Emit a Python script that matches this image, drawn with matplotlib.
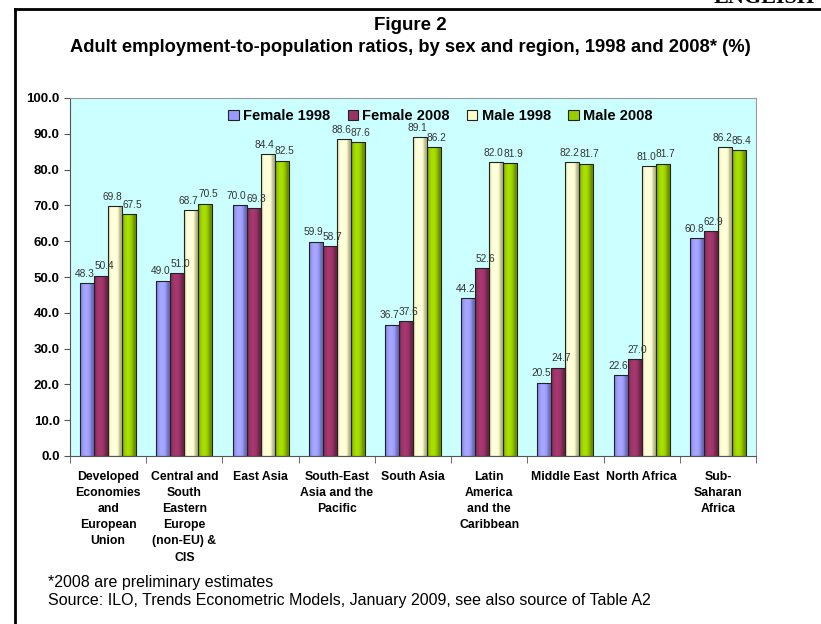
import matplotlib.pyplot as plt
import numpy as np
from matplotlib.colors import to_rgb
from matplotlib.lines import Line2D
from matplotlib.patches import Patch

plt.rcParams['font.family'] = ['Liberation Sans', 'DejaVu Sans']

regions = [
    "Developed\nEconomies\nand\nEuropean\nUnion",
    "Central and\nSouth\nEastern\nEurope\n(non-EU) &\nCIS",
    "East Asia",
    "South-East\nAsia and the\nPacific",
    "South Asia",
    "Latin\nAmerica\nand the\nCaribbean",
    "Middle East",
    "North Africa",
    "Sub-\nSaharan\nAfrica",
]
female_1998 = [48.3, 49.0, 70.0, 59.9, 36.7, 44.2, 20.5, 22.6, 60.8]
female_2008 = [50.4, 51.0, 69.3, 58.7, 37.6, 52.6, 24.7, 27.0, 62.9]
male_1998 = [69.8, 68.7, 84.4, 88.6, 89.1, 82.0, 82.2, 81.0, 86.2]
male_2008 = [67.5, 70.5, 82.5, 87.6, 86.2, 81.9, 81.7, 81.7, 85.4]

series = [
    ("Female 1998", female_1998, "#9999FF"),
    ("Female 2008", female_2008, "#993366"),
    ("Male 1998", male_1998, "#FFFFCC"),
    ("Male 2008", male_2008, "#99CC00"),
]

fig = plt.figure(figsize=(8.21, 6.24), dpi=100)
ax = fig.add_axes([70 / 821, 1 - 456 / 624, 686 / 821, 358 / 624])
ax.set_facecolor("#CCFFFF")

# shading across a bar: darker at the edges, light a bit left of centre
t = np.linspace(0, 1, 40)
shade = 0.72 + 0.38 * np.sin(np.pi * np.clip(t * 1.25, 0, 1)) ** 0.7

x = np.arange(len(regions))
w = 0.184
for k, (name, vals, col) in enumerate(series):
    pos = x + (k - 1.5) * w
    bars = ax.bar(pos, vals, width=w, color="none", edgecolor="#222222", linewidth=0.8, zorder=2.2)
    rgb = np.array(to_rgb(col))
    img = np.clip(rgb[None, None, :] * shade[None, :, None], 0, 1)
    for b in bars:
        im = ax.imshow(img, extent=[b.get_x(), b.get_x() + b.get_width(), 0, b.get_height()],
                       aspect="auto", zorder=2.1, interpolation="bilinear")
        im.set_clip_path(b)
    dx = -2 if k % 2 == 0 else 2
    for xp, v in zip(pos, vals):
        ax.annotate(f"{v:.1f}", (xp, v), xytext=(dx, 3), textcoords="offset points",
                    ha="center", va="bottom", fontsize=7.3, color="#333333", zorder=3)

ax.set_xlim(-0.5, len(regions) - 0.5)
ax.set_ylim(0, 100)
ax.set_yticks(np.arange(0, 101, 10))
ax.set_yticklabels([f"{t:.1f}" for t in np.arange(0, 101, 10)], fontsize=9.5, fontweight="bold")
ax.set_xticks(x)
ax.set_xticklabels(regions, fontsize=8.8, fontweight="bold", va="top", linespacing=1.45)
ax.tick_params(axis="x", length=0, pad=11)
ax.set_xticks(np.arange(-0.5, len(regions)), minor=True)
ax.tick_params(axis="x", which="minor", length=5, color="#555555")
ax.tick_params(axis="y", length=4, color="#555555")
for s in ax.spines.values():
    s.set_color("#999999")
ax.spines["left"].set_color("#555555")
ax.spines["bottom"].set_color("#555555")

handles = [Patch(facecolor=col, edgecolor="#222222", linewidth=0.8, label=name)
           for name, _, col in series]
ax.legend(handles=handles, loc="upper center", bbox_to_anchor=(0.54, 1.005), ncol=4, frameon=False,
          prop={"weight": "bold", "size": 10.5}, handlelength=0.7, handleheight=0.7,
          handletextpad=0.3, columnspacing=1.2)

fig.text(0.5, 1 - 25 / 624, "Figure 2", ha="center", va="center", fontsize=13.5, fontweight="bold")
fig.text(0.5, 1 - 48 / 624, "Adult employment-to-population ratios, by sex and region, 1998 and 2008* (%)",
         ha="center", va="center", fontsize=13.2, fontweight="bold")
fig.text(48 / 821, 1 - 582 / 624, "*2008 are preliminary estimates", ha="left", va="center", fontsize=11.5)
fig.text(48 / 821, 1 - 600 / 624, "Source: ILO, Trends Econometric Models, January 2009, see also source of Table A2",
         ha="left", va="center", fontsize=11.5)

# page frame and cut-off header
fig.add_artist(Line2D([15 / 821, 1], [1 - 9 / 624] * 2, color="black", lw=2))
fig.add_artist(Line2D([15 / 821] * 2, [0, 1 - 9 / 624], color="black", lw=2))
fig.text(815 / 821, 1 - 8 / 624, "ENGLISH", ha="right", va="bottom", fontsize=16, fontweight="bold",
         family="Liberation Serif")

fig.savefig("out.png", dpi=100)
